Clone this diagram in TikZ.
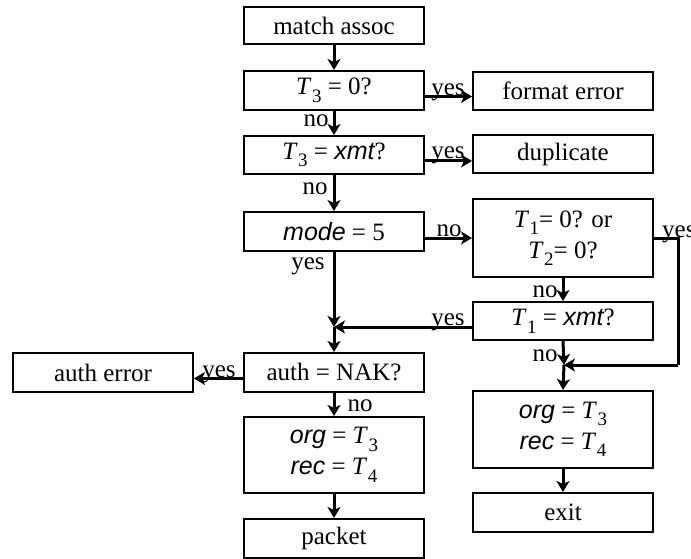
\documentclass[tikz,border=0pt]{standalone}
\usepackage{fontspec}
\setmainfont{Liberation Serif}
\newfontfamily\arialfam{Liberation Sans}
\usetikzlibrary{arrows.meta,calc}
\newcommand\Tv[1]{\textit{T}\kern0.02em\raisebox{-0.3em}{\fontsize{19}{19}\selectfont #1}}
\newcommand\sv[1]{{\arialfam\itshape #1}}
\tikzset{
  box/.style={draw, line width=2pt, minimum width=180pt, inner sep=0pt, align=center,
    font=\fontsize{25}{31}\selectfont},
  arr/.style={line width=3pt, -{Stealth[length=11pt,width=13pt,inset=3pt]}},
  ln/.style={line width=3pt},
  lbl/.style={inner sep=0pt, font=\fontsize{25}{30}\selectfont},
}
\begin{document}
\begin{tikzpicture}[x=1pt,y=-1pt]
\useasboundingbox (0,0) rectangle (691,559);
\node[box, minimum height=37pt] (match) at (334,26) {match assoc};
\node[box, minimum height=39pt] (t30) at (334,90.5) {\Tv{3} = 0?};
\node[box, minimum height=38pt] (t3x) at (334,155) {\Tv{3} = \sv{xmt}?};
\node[box, minimum height=38pt] (fmt) at (563,91) {format error};
\node[box, minimum height=38pt] (dup) at (563,154) {duplicate};
\node[box, minimum height=39pt] (mode) at (334,231.5) {\sv{mode} = 5};
\node[box, minimum height=78pt] (t12) at (563,238) {\Tv{1}= 0? or\\\Tv{2}= 0?};
\node[box, minimum height=38pt] (t1x) at (563,321) {\Tv{1} = \sv{xmt}?};
\node[box, minimum height=77pt] (org2) at (563,429.5) {\sv{org} = \Tv{3}\\\sv{rec} = \Tv{4}};
\node[box, minimum height=39pt] (exit) at (563,512.5) {exit};
\node[box, minimum height=39pt] (autherr) at (103,372.5) {auth error};
\node[box, minimum height=39pt] (auth) at (334,372.5) {auth = NAK?};
\node[box, minimum height=76pt] (org1) at (334,455) {\sv{org} = \Tv{3}\\\sv{rec} = \Tv{4}};
\node[box, minimum height=39pt] (packet) at (334,538.5) {packet};

\coordinate (merge) at (334,327);
\coordinate (rjoin) at (564,365);
\coordinate (rcorner1) at (678,238);
\coordinate (rcorner2) at (678,365);

\draw[arr] (match) -- (t30);
\draw[arr] (t30) -- (t3x);
\draw[arr] (t3x) -- (mode);
\draw[arr] ([yshift=-6pt]t30.east) -- ([yshift=-6pt]t30.east -| fmt.west);
\draw[arr] ([yshift=-6pt]t3x.east) -- ([yshift=-6pt]t3x.east -| dup.west);
\draw[arr] ([yshift=-6.5pt]mode.east) -- (t12.west);
\draw[arr] (mode.south) -- (merge);
\draw[arr] (t1x.west |- merge) -- (merge);
\draw[arr] (merge) -- (auth.north);
\draw[arr] (t12) -- (t1x);
\draw[arr] (t1x.south) -- (rjoin);
\draw[ln] (t12.east) -- (rcorner1) -- (rcorner2);
\draw[arr] (rcorner2) -- (rjoin);
\draw[arr] (rjoin) -- (org2.north);
\draw[arr] (org2) -- (exit);
\draw[arr] ([yshift=-6pt]auth.west) -- ([yshift=-6pt]auth.west -| autherr.east);
\draw[arr] (auth) -- (org1);
\draw[arr] (org1) -- (packet);

\node[lbl, anchor=base] (y1) at (448,96) {yes};
\node[lbl, anchor=base] (y2) at (448,159) {yes};
\node[lbl] (n1) at (316,121) {no};
\node[lbl] (n2) at (315,189) {no};
\node[lbl, anchor=base] (n3) at (449,236) {no};
\node[lbl] (y3) at (308,266) {yes};
\node[lbl, anchor=base] (y4) at (448,325) {yes};
\node[lbl, anchor=base west] (y5) at (662,237) {yes};
\node[lbl] (n4) at (545,292) {no};
\node[lbl] (n5) at (545,356) {no};
\node[lbl, anchor=base] (y6) at (219,377) {yes};
\node[lbl] (n6) at (360,406) {no};
\end{tikzpicture}
\end{document}
